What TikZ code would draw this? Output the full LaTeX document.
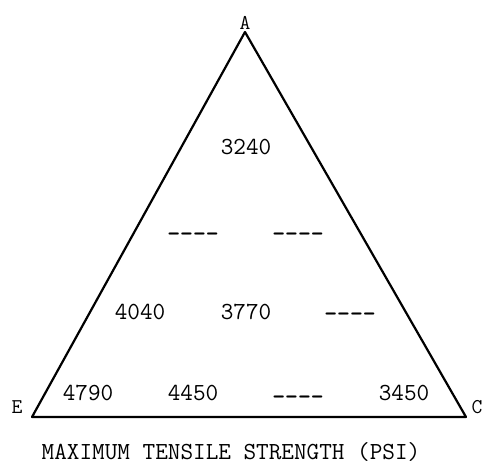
\documentclass[tikz,border=0pt]{standalone}
\usepackage{tikz}

\begin{document}
\begin{tikzpicture}[x=1pt, y=1pt,
  val/.style={font=\ttfamily\fontsize{24.5}{28}\selectfont, inner sep=0pt},
  vtx/.style={font=\ttfamily\fontsize{21}{24}\selectfont, inner sep=0pt},
  edge/.style={draw, line width=2.2pt, line join=round}
]
  \useasboundingbox (0,0) rectangle (488,469);
  % corners of the triangle
  \coordinate (pA) at (245,437);
  \coordinate (pE) at (32,52);
  \coordinate (pC) at (466,52);
  \draw[edge] (pA) -- (pC) -- (pE) -- cycle;
  \node[vtx] (lA) at (245,446) {A};
  \node[vtx] (lE) at (17,62) {E};
  \node[vtx] (lC) at (477,62) {C};
  % values
  \node[val] (v1) at (246,322) {3240};
  \node[val] (d1) at (193,232) {\textbf{----}};
  \node[val] (d2) at (298,232) {\textbf{----}};
  \node[val] (v2) at (140,157) {4040};
  \node[val] (v3) at (246,157) {3770};
  \node[val] (d3) at (350,152) {\textbf{----}};
  \node[val] (v4) at (88,76) {4790};
  \node[val] (v5) at (193,76) {4450};
  \node[val] (d4) at (298,69) {\textbf{----}};
  \node[val] (v6) at (404,76) {3450};
  \node[val, anchor=base] (cap) at (231,9) {MAXIMUM TENSILE STRENGTH (PSI)};
\end{tikzpicture}
\end{document}
